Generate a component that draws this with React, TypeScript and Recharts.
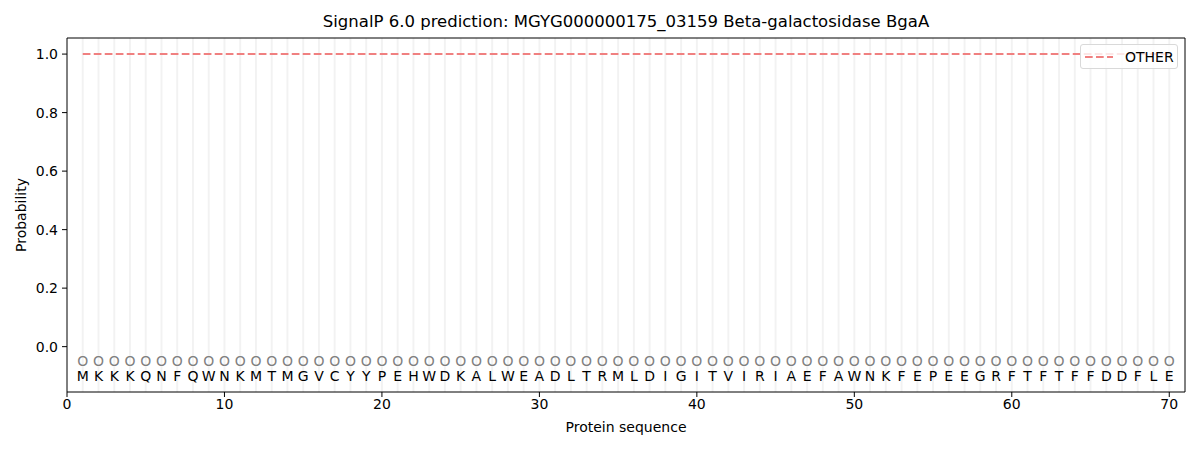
import { ComposedChart, Line, Scatter, XAxis, YAxis, ReferenceLine, Label } from "recharts";

const sequence = "MKKKQNFQWNKMTMGVCYYPEHWDKALWEADLTRMLDIGITVIRIAEFAWNKFEPEEGRFTFTFFDDFLE".split("");
const positions = sequence.map((_, i) => i + 1);
const otherProb = positions.map(() => 1.0);
const xTicks = [0, 10, 20, 30, 40, 50, 60, 70];
const yTicks = [0, 0.2, 0.4, 0.6, 0.8, 1.0];

const FONT = "DejaVu Sans, Verdana, sans-serif";

const lineData = positions.map((p, i) => ({ pos: p, other: otherProb[i] }));
const markerData = positions.map((p) => ({ pos: p, y: -0.05 }));
const letterData = positions.map((p, i) => ({ pos: p, y: -0.1, aa: sequence[i] }));

const OMark = (props: any) => (
  <text x={props.cx} y={props.cy} textAnchor="middle" dominantBaseline="central" fontSize={14} fontFamily={FONT} fill="#808080">
    O
  </text>
);

const Letter = (props: any) => (
  <text x={props.cx} y={props.cy} textAnchor="middle" dominantBaseline="central" fontSize={14} fontFamily={FONT} fill="#000">
    {props.payload.aa}
  </text>
);

// legend drawn as an overlay so it doesn't eat plot space
const LegendBox = () => (
  <div
    style={{
      position: "absolute",
      top: 44,
      left: 1080,
      width: 98,
      height: 25,
      border: "1px solid #d9d9d9",
      borderRadius: 3,
      background: "rgba(255,255,255,0.8)",
      display: "flex",
      alignItems: "center",
      fontFamily: FONT,
      fontSize: 14,
      boxSizing: "border-box",
    }}
  >
    <svg width={44} height={10}>
      <line x1={4} y1={5} x2={32} y2={5} stroke="#f08080" strokeWidth={2} strokeDasharray="7.7 3.3" />
    </svg>
    <span>OTHER</span>
  </div>
);

export default function App() {
  return (
    <div style={{ position: "absolute", left: 0, top: 0, width: 1200, height: 450, background: "#fff" }}>
      <div
        style={{
          position: "absolute",
          top: 12,
          left: 67,
          width: 1118,
          textAlign: "center",
          fontFamily: FONT,
          fontSize: 16.5,
        }}
      >
        SignalP 6.0 prediction: MGYG000000175_03159 Beta-galactosidase BgaA
      </div>
      <ComposedChart width={1200} height={450} margin={{ top: 38, right: 15, bottom: 0, left: 0 }}>
        {positions.map((p) => (
          <ReferenceLine key={p} x={p} stroke="#000" strokeOpacity={0.05} strokeWidth={2} />
        ))}
        <XAxis
          type="number"
          dataKey="pos"
          domain={[0, 71]}
          ticks={xTicks}
          allowDataOverflow
          height={58}
          tick={{ fontSize: 14, fill: "#000", fontFamily: FONT }}
          tickSize={5}
          tickMargin={2}
          stroke="#000"
        >
          <Label value="Protein sequence" position="insideBottom" offset={18} style={{ fontSize: 14, fill: "#000", fontFamily: FONT }} />
        </XAxis>
        <YAxis
          type="number"
          domain={[-0.155, 1.055]}
          ticks={yTicks}
          allowDataOverflow
          width={67}
          tickFormatter={(v: number) => v.toFixed(1)}
          tick={{ fontSize: 14, fill: "#000", fontFamily: FONT }}
          tickSize={5}
          tickMargin={4}
          stroke="#000"
        >
          <Label value="Probability" angle={-90} position="insideLeft" offset={21} style={{ fontSize: 14, fill: "#000", fontFamily: FONT, textAnchor: "middle" }} />
        </YAxis>
        <ReferenceLine y={1.055} stroke="#000" />
        <ReferenceLine x={71} stroke="#000" />
        <Line
          data={lineData}
          dataKey="other"
          name="OTHER"
          stroke="#f08080"
          strokeWidth={2}
          strokeDasharray="7.7 3.3"
          dot={false}
          isAnimationActive={false}
        />
        <Scatter data={markerData} dataKey="y" shape={<OMark />} isAnimationActive={false} legendType="none" />
        <Scatter data={letterData} dataKey="y" shape={<Letter />} isAnimationActive={false} legendType="none" />
      </ComposedChart>
      <LegendBox />
    </div>
  );
}
